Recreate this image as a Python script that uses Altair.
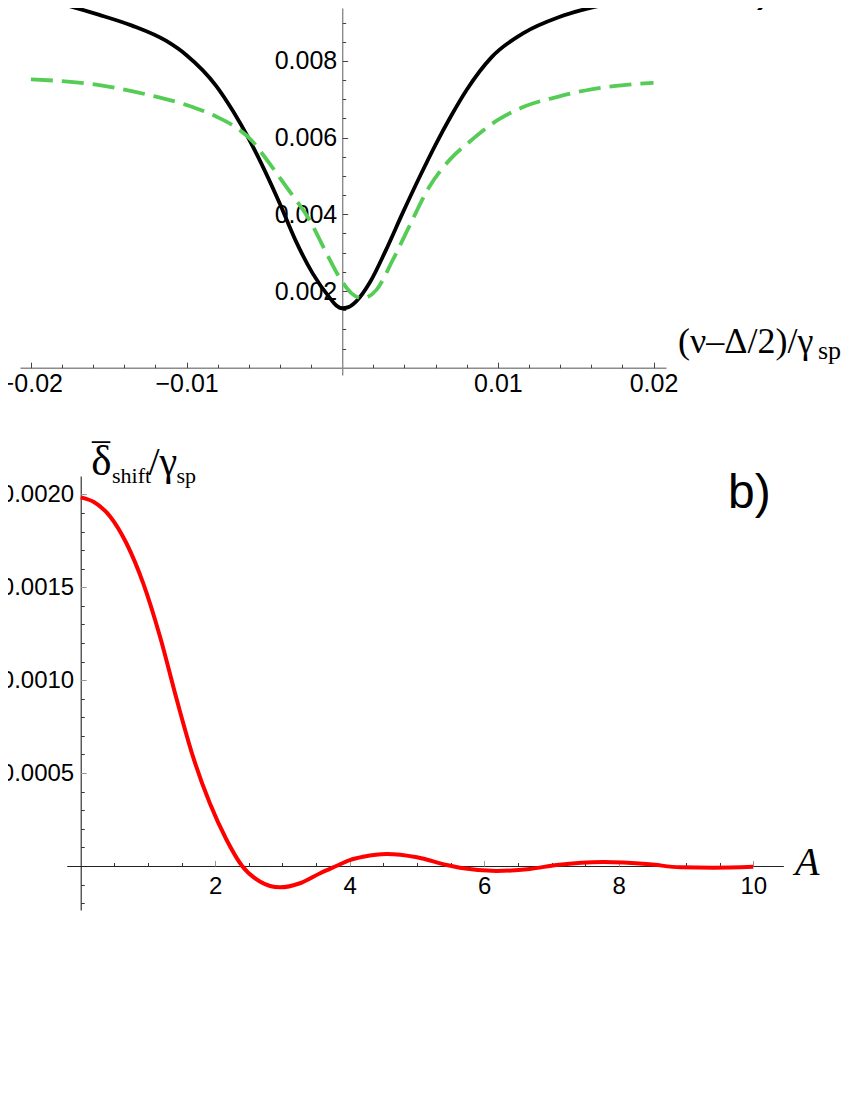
import altair as alt
import pandas as pd

# ---------------- panel a) ----------------
black_x = [-0.0200, -0.0192, -0.0156, -0.0135, -0.0113, -0.0100, -0.0081, -0.0070, -0.0060,
           -0.0050, -0.0040, -0.0030, -0.0019, -0.0008, -0.0004, 0.0000, 0.0004, 0.0009,
           0.0018, 0.0028, 0.0039, 0.0050, 0.0060, 0.0070, 0.0080, 0.0096, 0.0117, 0.0139,
           0.0160, 0.0190, 0.0200]
black_y = [0.00967, 0.00960, 0.00920, 0.00892, 0.00852, 0.00815, 0.00735, 0.00668, 0.00597,
           0.00516, 0.00427, 0.00332, 0.00246, 0.00182, 0.00163, 0.00155, 0.00158, 0.00173,
           0.00224, 0.00306, 0.00405, 0.00500, 0.00582, 0.00657, 0.00725, 0.00810, 0.00874,
           0.00914, 0.00939, 0.00960, 0.00966]

green_x = [-0.0200, -0.0156, -0.0124, -0.0100, -0.0081, -0.0068, -0.0058, -0.0051, -0.0036,
           -0.0021, -0.0010, -0.0002, 0.0006, 0.0013, 0.0022, 0.00325, 0.0043, 0.0056,
           0.0069, 0.0082, 0.0100, 0.0117, 0.0139, 0.0160, 0.0181, 0.0200]
green_y = [0.00752, 0.00737, 0.00711, 0.00685, 0.00655, 0.00626, 0.00592, 0.00556, 0.00472,
           0.00385, 0.00298, 0.00237, 0.00194, 0.00181, 0.00203, 0.00281, 0.00368, 0.00472,
           0.00542, 0.00590, 0.00646, 0.00681, 0.00707, 0.00726, 0.00737, 0.00743]

a_xlabels = [-0.02, -0.01, 0.01, 0.02]
a_xmajor = [-0.02, -0.01, 0.0, 0.01, 0.02]
a_xminor = [-0.018, -0.016, -0.014, -0.012, -0.008, -0.006, -0.004, -0.002,
            0.002, 0.004, 0.006, 0.008, 0.012, 0.014, 0.016, 0.018]
a_ylabels = [0.002, 0.004, 0.006, 0.008]
a_yminor = [0.0005, 0.001, 0.0015, 0.0025, 0.003, 0.0035, 0.0045, 0.005, 0.0055,
            0.0065, 0.007, 0.0075, 0.0085, 0.009]

# ---------------- panel b) ----------------
red_x = [0.0, 0.19, 0.44, 0.68, 0.93, 1.18, 1.43, 1.67, 1.92, 2.17, 2.40, 2.67, 2.96, 3.26,
         3.56, 3.80, 4.00, 4.20, 4.55, 5.00, 5.44, 5.69, 6.18, 6.68, 7.08, 7.77, 8.46, 8.91,
         9.41, 10.0]
red_y = [0.001984, 0.00196, 0.00188, 0.001737, 0.001521, 0.001234, 0.000893, 0.000588,
         0.000337, 0.00014, 0.0, -0.0000845, -0.000115, -0.000093, -0.000039, 0.0, 0.000032,
         0.000050, 0.0000646, 0.0000468, 0.0000054, -0.0000125, -0.000027, -0.000016,
         0.0000054, 0.0000215, 0.000009, -0.000007, -0.000009, -0.000004]

b_xlabels = [2, 4, 6, 8, 10]
b_xminor = [0.5, 1, 1.5, 2.5, 3, 3.5, 4.5, 5, 5.5, 6.5, 7, 7.5, 8.5, 9, 9.5]
b_ylabels = [0.0005, 0.001, 0.0015, 0.002]
b_yminor = [-0.0002, -0.0001, 0.0001, 0.0002, 0.0003, 0.0004, 0.0006, 0.0007, 0.0008,
            0.0009, 0.0011, 0.0012, 0.0013, 0.0014, 0.0016, 0.0017, 0.0018, 0.0019]

W, H = 834, 1080
SANS = "Liberation Sans"
SERIF = "Liberation Serif"

df_black = pd.DataFrame({"x": black_x, "y": black_y})
df_green = pd.DataFrame({"x": green_x, "y": green_y})
df_red = pd.DataFrame({"x": red_x, "y": red_y})

# ---- scales (pixel ranges in view coordinates) ----
TX = alt.Scale(domain=[-0.0207, 0.0208], range=[12, 658], nice=False, zero=False)
TY = alt.Scale(domain=[-0.00019, 0.00938], range=[367, 0], nice=False, zero=False)
tx0, ty0 = 334.2, 359.7

BX = alt.Scale(domain=[-0.208, 10.446], range=[58.7, 775.3], nice=False, zero=False)
BY = alt.Scale(domain=[-0.000237, 0.002099], range=[902, 468], nice=False, zero=False)
bx0, by0 = 72.7, 857.97


def lab_axis(orient, values, fmt, offset, pad, dcolor, dwidth, size):
    return alt.Axis(orient=orient, values=values, format=fmt, offset=offset, title=None,
                    grid=False, ticks=False, tickSize=0, domain=True, domainColor=dcolor,
                    domainWidth=dwidth, labels=True, labelFont=SANS, labelFontSize=size,
                    labelColor="black", labelPadding=pad, labelFlush=False,
                    labelOverlap=False, zindex=0)


def tick_axis(orient, values, offset, size, color):
    return alt.Axis(orient=orient, values=values, offset=offset, title=None, grid=False,
                    ticks=True, tickSize=size, tickColor=color, tickWidth=1,
                    domain=False, labels=False, zindex=0)


# ---------------- panel a) layers ----------------
a_black = alt.Chart(df_black).mark_line(color="black", strokeWidth=3.8,
                                        interpolate="monotone").encode(
    x=alt.X("x:Q", scale=TX,
            axis=lab_axis("bottom", a_xlabels, ".2f", -(H - ty0), 3.5, "#8c8c8c", 1.4, 25)),
    y=alt.Y("y:Q", scale=TY,
            axis=lab_axis("left", a_ylabels, ".3f", -tx0, 5.5, "#8c8c8c", 1.4, 25)),
)
a_green = alt.Chart(df_green).mark_line(color="#55CC55", strokeWidth=3.8, strokeDash=[22, 9],
                                        interpolate="monotone").encode(
    x=alt.X("x:Q", scale=TX, axis=tick_axis("top", a_xmajor, -ty0, 5.5, "#444444")),
    y=alt.Y("y:Q", scale=TY, axis=tick_axis("right", a_ylabels, -(W - tx0), 5.5, "#444444")),
)
a_minor = alt.Chart(df_green).mark_point(opacity=0).encode(
    x=alt.X("x:Q", scale=TX, axis=tick_axis("top", a_xminor, -ty0, 3.5, "#444444")),
    y=alt.Y("y:Q", scale=TY, axis=tick_axis("right", a_yminor, -(W - tx0), 3.5, "#444444")),
)
panel_a = alt.layer(a_black, a_green, a_minor).resolve_axis(x="independent", y="independent")

# ---------------- panel b) layers ----------------
b_red = alt.Chart(df_red).mark_line(color="#FF0000", strokeWidth=4,
                                    interpolate="monotone").encode(
    x=alt.X("x:Q", scale=BX,
            axis=lab_axis("bottom", b_xlabels, "d", -(H - by0), 8.5, "#222222", 1.1, 24)),
    y=alt.Y("y:Q", scale=BY,
            axis=lab_axis("left", b_ylabels, ".4f", -bx0, 7, "#222222", 1.1, 24)),
)
b_major = alt.Chart(df_red).mark_point(opacity=0).encode(
    x=alt.X("x:Q", scale=BX, axis=tick_axis("top", b_xlabels, -by0, 5.5, "#999999")),
    y=alt.Y("y:Q", scale=BY, axis=tick_axis("right", b_ylabels, -(W - bx0), 5.5, "#999999")),
)
b_minor = alt.Chart(df_red).mark_point(opacity=0).encode(
    x=alt.X("x:Q", scale=BX, axis=tick_axis("top", b_xminor, -by0, 3.5, "#333333")),
    y=alt.Y("y:Q", scale=BY, axis=tick_axis("right", b_yminor, -(W - bx0), 3.5, "#333333")),
)
panel_b = alt.layer(b_red, b_major, b_minor).resolve_axis(x="independent", y="independent")


# ---------------- text annotations ----------------
def label(text, px, py, font, size, style="normal", align="left"):
    return alt.Chart(pd.DataFrame({"t": [text]})).mark_text(
        font=font, fontSize=size, fontStyle=style, align=align, baseline="alphabetic",
        color="black").encode(text="t:N", x=alt.value(px), y=alt.value(py))


texts = [
    label("(ν–Δ/2)/γ", 670, 344.7, SERIF, 36),
    label("sp", 810, 351, SERIF, 26),
    label("a)", 722, -8, SANS, 48),
    label("b)", 720, 500.3, SANS, 48),
    label("¯", 84, 460.5, SERIF, 36),
    label("δ", 83.2, 467, SERIF, 43),
    label("shift", 104, 475.3, SERIF, 22),
    label("/γ", 140.5, 467, SERIF, 40),
    label("sp", 168.5, 475.3, SERIF, 22),
    label("A", 787, 867, SERIF, 40, style="italic"),
]

chart = alt.layer(panel_a, panel_b, *texts).resolve_scale(
    x="independent", y="independent"
).properties(
    width=W, height=H, padding=0, background="white",
    autosize=alt.AutoSizeParams(type="none"),
).configure_view(stroke=None)

chart.save("out.html", embed_options={"renderer": "svg", "actions": False})
